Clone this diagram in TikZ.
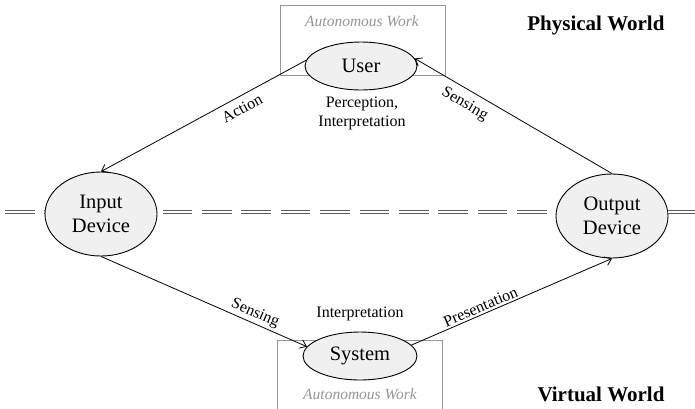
\documentclass[tikz,border=0pt]{standalone}
\usepackage{fontspec}
\setmainfont{Liberation Serif}
\usetikzlibrary{shapes.geometric, arrows.meta, positioning}
\definecolor{ovalfill}{RGB}{240, 240, 240}
\definecolor{boxgray}{RGB}{150, 150, 150}
\definecolor{linegray}{RGB}{90, 90, 90}

\tikzset{
  oval/.style={ellipse, draw, line width=0.9pt, fill=ovalfill, inner sep=0pt,
    align=center, font=\fontsize{20.5}{24.6}\selectfont},
  workbox/.style={draw=boxgray, line width=0.8pt, fill=white, inner sep=0pt},
  worktext/.style={text=boxgray, font=\fontsize{15.5}{18}\selectfont\itshape},
  flow/.style={draw, line width=0.8pt, -{Straight Barb[length=6pt, width=9pt]}},
  flowlabel/.style={font=\fontsize{16}{19.2}\selectfont, sloped, inner sep=1pt},
  note/.style={font=\fontsize{16}{19.2}\selectfont, align=center},
  worldlabel/.style={font=\fontsize{21}{25}\selectfont\bfseries},
  worldline/.style={double=white, draw=linegray, line width=0.9pt, double distance=1.3pt,
    dash pattern=on 29.5pt off 9.9pt}
}

\begin{document}
\begin{tikzpicture}[x=1pt, y=-1pt]
  \clip (0,0) rectangle (695,408);

  % ---- Autonomous work boxes ----
  \node[workbox, minimum width=165pt, minimum height=70pt] (userwork) at (362.5, 40) {};
  \node[worktext] (userworktext) at (362, 21) {Autonomous Work};
  \node[workbox, minimum width=165pt, minimum height=80pt] (syswork) at (359.5, 380) {};
  \node[worktext] (sysworktext) at (360, 394) {Autonomous Work};

  % ---- World border ----
  \coordinate (borderwest) at (5, 212);
  \coordinate (bordereast) at (695, 212);
  \draw[worldline] (borderwest) -- (bordereast);

  % ---- Nodes ----
  \node[oval, minimum width=112pt, minimum height=84pt] (input)  at (101, 214) {Input\\Device};
  \node[oval, minimum width=112pt, minimum height=84pt] (output) at (612, 216) {Output\\Device};
  \node[oval, minimum width=112pt, minimum height=48pt] (user)   at (361, 66)  {User};
  \node[oval, minimum width=114pt, minimum height=48pt] (system) at (360, 356) {System};
  \draw[worldline, solid] (output.east |- bordereast) -- (bordereast);

  % ---- Notes ----
  \node[note] (usernote) at (362, 113) {Perception,\\Interpretation};
  \node[note] (sysnote)  at (360, 314) {Interpretation};

  % ---- Flows ----
  \draw[flow] (user.174) -- node[flowlabel, pos=0.34, below=5pt] {Action} (input.north);
  \draw[flow] (output.north) -- node[flowlabel, pos=0.71, below=6pt] {Sensing} (user.8);
  \draw[flow] (input.south) -- node[flowlabel, pos=0.73, above=1pt] {Sensing} (system.170);
  \draw[flow] (system.12) -- node[flowlabel, pos=0.36, above=1pt] {Presentation} (output.south);

  % ---- Worlds ----
  \node[worldlabel, anchor=base east] (physical) at (668, 30)  {Physical World};
  \node[worldlabel, anchor=base east] (virtual)  at (668, 401) {Virtual World};
\end{tikzpicture}
\end{document}
